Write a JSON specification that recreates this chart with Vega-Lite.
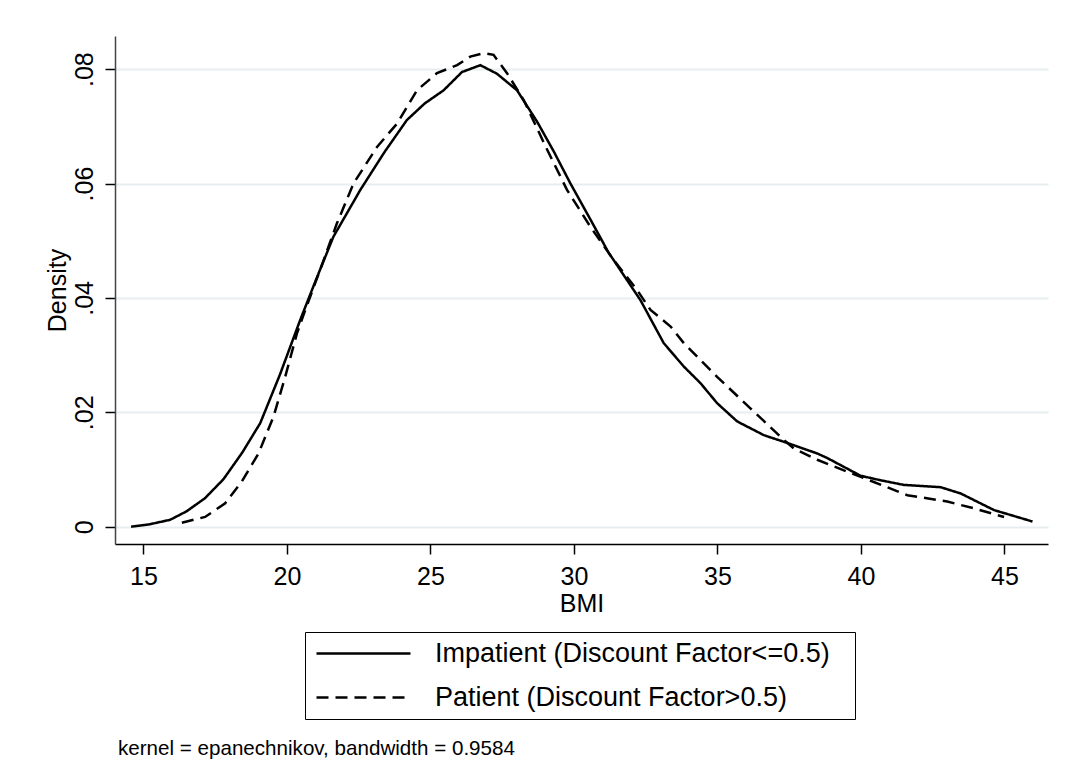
{
  "$schema": "https://vega.github.io/schema/vega-lite/v6.json",
  "width": 933,
  "height": 508,
  "autosize": {"type": "none"},
  "padding": {"left": 115, "top": 36, "right": 20, "bottom": 236},
  "background": "white",
  "title": {
    "text": "kernel = epanechnikov, bandwidth = 0.9584",
    "orient": "bottom",
    "anchor": "start",
    "frame": "group",
    "fontSize": 20.6,
    "font": "Liberation Sans",
    "fontWeight": "normal",
    "color": "black",
    "offset": 19,
    "dx": 3
  },
  "data": {
    "values": [
      {"bmi": 14.57, "density": 0.0000, "group": "Impatient (Discount Factor<=0.5)"},
      {"bmi": 15.20, "density": 0.0004, "group": "Impatient (Discount Factor<=0.5)"},
      {"bmi": 15.93, "density": 0.0012, "group": "Impatient (Discount Factor<=0.5)"},
      {"bmi": 16.51, "density": 0.0027, "group": "Impatient (Discount Factor<=0.5)"},
      {"bmi": 17.15, "density": 0.0050, "group": "Impatient (Discount Factor<=0.5)"},
      {"bmi": 17.79, "density": 0.0083, "group": "Impatient (Discount Factor<=0.5)"},
      {"bmi": 18.45, "density": 0.0130, "group": "Impatient (Discount Factor<=0.5)"},
      {"bmi": 19.07, "density": 0.0181, "group": "Impatient (Discount Factor<=0.5)"},
      {"bmi": 19.75, "density": 0.0265, "group": "Impatient (Discount Factor<=0.5)"},
      {"bmi": 20.46, "density": 0.0361, "group": "Impatient (Discount Factor<=0.5)"},
      {"bmi": 21.00, "density": 0.0430, "group": "Impatient (Discount Factor<=0.5)"},
      {"bmi": 21.62, "density": 0.0507, "group": "Impatient (Discount Factor<=0.5)"},
      {"bmi": 22.56, "density": 0.0589, "group": "Impatient (Discount Factor<=0.5)"},
      {"bmi": 23.40, "density": 0.0655, "group": "Impatient (Discount Factor<=0.5)"},
      {"bmi": 24.18, "density": 0.0711, "group": "Impatient (Discount Factor<=0.5)"},
      {"bmi": 24.80, "density": 0.0740, "group": "Impatient (Discount Factor<=0.5)"},
      {"bmi": 25.46, "density": 0.0763, "group": "Impatient (Discount Factor<=0.5)"},
      {"bmi": 26.10, "density": 0.0795, "group": "Impatient (Discount Factor<=0.5)"},
      {"bmi": 26.74, "density": 0.0807, "group": "Impatient (Discount Factor<=0.5)"},
      {"bmi": 27.32, "density": 0.0792, "group": "Impatient (Discount Factor<=0.5)"},
      {"bmi": 28.02, "density": 0.0763, "group": "Impatient (Discount Factor<=0.5)"},
      {"bmi": 28.72, "density": 0.0708, "group": "Impatient (Discount Factor<=0.5)"},
      {"bmi": 29.30, "density": 0.0656, "group": "Impatient (Discount Factor<=0.5)"},
      {"bmi": 29.88, "density": 0.0600, "group": "Impatient (Discount Factor<=0.5)"},
      {"bmi": 30.60, "density": 0.0535, "group": "Impatient (Discount Factor<=0.5)"},
      {"bmi": 31.20, "density": 0.0480, "group": "Impatient (Discount Factor<=0.5)"},
      {"bmi": 32.32, "density": 0.0396, "group": "Impatient (Discount Factor<=0.5)"},
      {"bmi": 33.13, "density": 0.0321, "group": "Impatient (Discount Factor<=0.5)"},
      {"bmi": 33.83, "density": 0.0280, "group": "Impatient (Discount Factor<=0.5)"},
      {"bmi": 34.41, "density": 0.0251, "group": "Impatient (Discount Factor<=0.5)"},
      {"bmi": 34.99, "density": 0.0216, "group": "Impatient (Discount Factor<=0.5)"},
      {"bmi": 35.69, "density": 0.0184, "group": "Impatient (Discount Factor<=0.5)"},
      {"bmi": 36.62, "density": 0.0160, "group": "Impatient (Discount Factor<=0.5)"},
      {"bmi": 37.40, "density": 0.0147, "group": "Impatient (Discount Factor<=0.5)"},
      {"bmi": 38.48, "density": 0.0128, "group": "Impatient (Discount Factor<=0.5)"},
      {"bmi": 38.83, "density": 0.0120, "group": "Impatient (Discount Factor<=0.5)"},
      {"bmi": 39.99, "density": 0.0089, "group": "Impatient (Discount Factor<=0.5)"},
      {"bmi": 40.70, "density": 0.0081, "group": "Impatient (Discount Factor<=0.5)"},
      {"bmi": 41.50, "density": 0.0073, "group": "Impatient (Discount Factor<=0.5)"},
      {"bmi": 42.78, "density": 0.0069, "group": "Impatient (Discount Factor<=0.5)"},
      {"bmi": 43.48, "density": 0.0058, "group": "Impatient (Discount Factor<=0.5)"},
      {"bmi": 44.64, "density": 0.0029, "group": "Impatient (Discount Factor<=0.5)"},
      {"bmi": 45.98, "density": 0.0009, "group": "Impatient (Discount Factor<=0.5)"},
      {"bmi": 16.34, "density": 0.0007, "group": "Patient (Discount Factor>0.5)"},
      {"bmi": 17.15, "density": 0.0017, "group": "Patient (Discount Factor>0.5)"},
      {"bmi": 17.85, "density": 0.0041, "group": "Patient (Discount Factor>0.5)"},
      {"bmi": 18.43, "density": 0.0079, "group": "Patient (Discount Factor>0.5)"},
      {"bmi": 19.01, "density": 0.0128, "group": "Patient (Discount Factor>0.5)"},
      {"bmi": 19.53, "density": 0.0192, "group": "Patient (Discount Factor>0.5)"},
      {"bmi": 19.94, "density": 0.0262, "group": "Patient (Discount Factor>0.5)"},
      {"bmi": 20.35, "density": 0.0338, "group": "Patient (Discount Factor>0.5)"},
      {"bmi": 20.64, "density": 0.0379, "group": "Patient (Discount Factor>0.5)"},
      {"bmi": 21.20, "density": 0.0455, "group": "Patient (Discount Factor>0.5)"},
      {"bmi": 21.74, "density": 0.0530, "group": "Patient (Discount Factor>0.5)"},
      {"bmi": 22.32, "density": 0.0600, "group": "Patient (Discount Factor>0.5)"},
      {"bmi": 23.14, "density": 0.0664, "group": "Patient (Discount Factor>0.5)"},
      {"bmi": 23.84, "density": 0.0705, "group": "Patient (Discount Factor>0.5)"},
      {"bmi": 24.53, "density": 0.0763, "group": "Patient (Discount Factor>0.5)"},
      {"bmi": 25.23, "density": 0.0793, "group": "Patient (Discount Factor>0.5)"},
      {"bmi": 25.93, "density": 0.0807, "group": "Patient (Discount Factor>0.5)"},
      {"bmi": 26.39, "density": 0.0822, "group": "Patient (Discount Factor>0.5)"},
      {"bmi": 26.86, "density": 0.0828, "group": "Patient (Discount Factor>0.5)"},
      {"bmi": 27.20, "density": 0.0825, "group": "Patient (Discount Factor>0.5)"},
      {"bmi": 27.67, "density": 0.0793, "group": "Patient (Discount Factor>0.5)"},
      {"bmi": 28.25, "density": 0.0746, "group": "Patient (Discount Factor>0.5)"},
      {"bmi": 29.07, "density": 0.0659, "group": "Patient (Discount Factor>0.5)"},
      {"bmi": 29.76, "density": 0.0589, "group": "Patient (Discount Factor>0.5)"},
      {"bmi": 30.58, "density": 0.0524, "group": "Patient (Discount Factor>0.5)"},
      {"bmi": 31.39, "density": 0.0466, "group": "Patient (Discount Factor>0.5)"},
      {"bmi": 32.20, "density": 0.0414, "group": "Patient (Discount Factor>0.5)"},
      {"bmi": 32.67, "density": 0.0379, "group": "Patient (Discount Factor>0.5)"},
      {"bmi": 33.37, "density": 0.0350, "group": "Patient (Discount Factor>0.5)"},
      {"bmi": 33.83, "density": 0.0321, "group": "Patient (Discount Factor>0.5)"},
      {"bmi": 34.99, "density": 0.0262, "group": "Patient (Discount Factor>0.5)"},
      {"bmi": 36.15, "density": 0.0207, "group": "Patient (Discount Factor>0.5)"},
      {"bmi": 37.31, "density": 0.0152, "group": "Patient (Discount Factor>0.5)"},
      {"bmi": 37.66, "density": 0.0137, "group": "Patient (Discount Factor>0.5)"},
      {"bmi": 38.48, "density": 0.0117, "group": "Patient (Discount Factor>0.5)"},
      {"bmi": 39.53, "density": 0.0096, "group": "Patient (Discount Factor>0.5)"},
      {"bmi": 40.10, "density": 0.0085, "group": "Patient (Discount Factor>0.5)"},
      {"bmi": 41.62, "density": 0.0055, "group": "Patient (Discount Factor>0.5)"},
      {"bmi": 43.01, "density": 0.0044, "group": "Patient (Discount Factor>0.5)"},
      {"bmi": 43.94, "density": 0.0032, "group": "Patient (Discount Factor>0.5)"},
      {"bmi": 44.99, "density": 0.0017, "group": "Patient (Discount Factor>0.5)"}
    ]
  },
  "mark": {"type": "line", "color": "black", "strokeWidth": 2.5, "interpolate": "linear"},
  "encoding": {
    "x": {
      "field": "bmi",
      "type": "quantitative",
      "scale": {"domain": [14.01, 46.52], "nice": false, "zero": false},
      "axis": {
        "title": "BMI",
        "values": [15, 20, 25, 30, 35, 40, 45],
        "grid": false,
        "tickSize": 10,
        "labelPadding": 10,
        "titlePadding": 2,
        "domainColor": "black",
        "tickColor": "black"
      }
    },
    "y": {
      "field": "density",
      "type": "quantitative",
      "scale": {"domain": [-0.00303, 0.0858], "nice": false, "zero": false},
      "axis": {
        "title": "Density",
        "values": [0, 0.02, 0.04, 0.06, 0.08],
        "labelExpr": "datum.value == 0 ? '0' : replace(format(datum.value, '.2f'), '0.', '.')",
        "labelAngle": -90,
        "grid": true,
        "gridColor": "#e6eef0",
        "gridWidth": 2,
        "tickSize": 10,
        "labelPadding": 8,
        "titlePadding": 2,
        "domainColor": "#444444",
        "tickColor": "black"
      }
    },
    "strokeDash": {
      "field": "group",
      "type": "nominal",
      "scale": {
        "domain": ["Impatient (Discount Factor<=0.5)", "Patient (Discount Factor>0.5)"],
        "range": [[1, 0], [12, 7]]
      },
      "legend": {
        "title": "\u00a0",
        "titleOrient": "right",
        "titleFontSize": 6,
        "titlePadding": 17,
        "orient": "none",
        "legendX": 190,
        "legendY": 596,
        "direction": "vertical",
        "symbolType": "M-1,0L8.4,0",
        "symbolSize": 400,
        "symbolStrokeWidth": 2.5,
        "symbolStrokeColor": "black",
        "labelFontSize": 27,
        "labelFont": "Liberation Sans",
        "labelColor": "black",
        "labelLimit": 600,
        "labelOffset": 95,
        "strokeColor": "black",
        "padding": 8,
        "rowPadding": 16
      }
    }
  },
  "config": {
    "view": {"stroke": null},
    "font": "Liberation Sans",
    "axis": {
      "labelFont": "Liberation Sans",
      "titleFont": "Liberation Sans",
      "labelFontSize": 25,
      "titleFontSize": 25,
      "titleFontWeight": "normal",
      "labelColor": "black",
      "titleColor": "black",
      "domainWidth": 1.5,
      "tickWidth": 1.5
    }
  }
}
